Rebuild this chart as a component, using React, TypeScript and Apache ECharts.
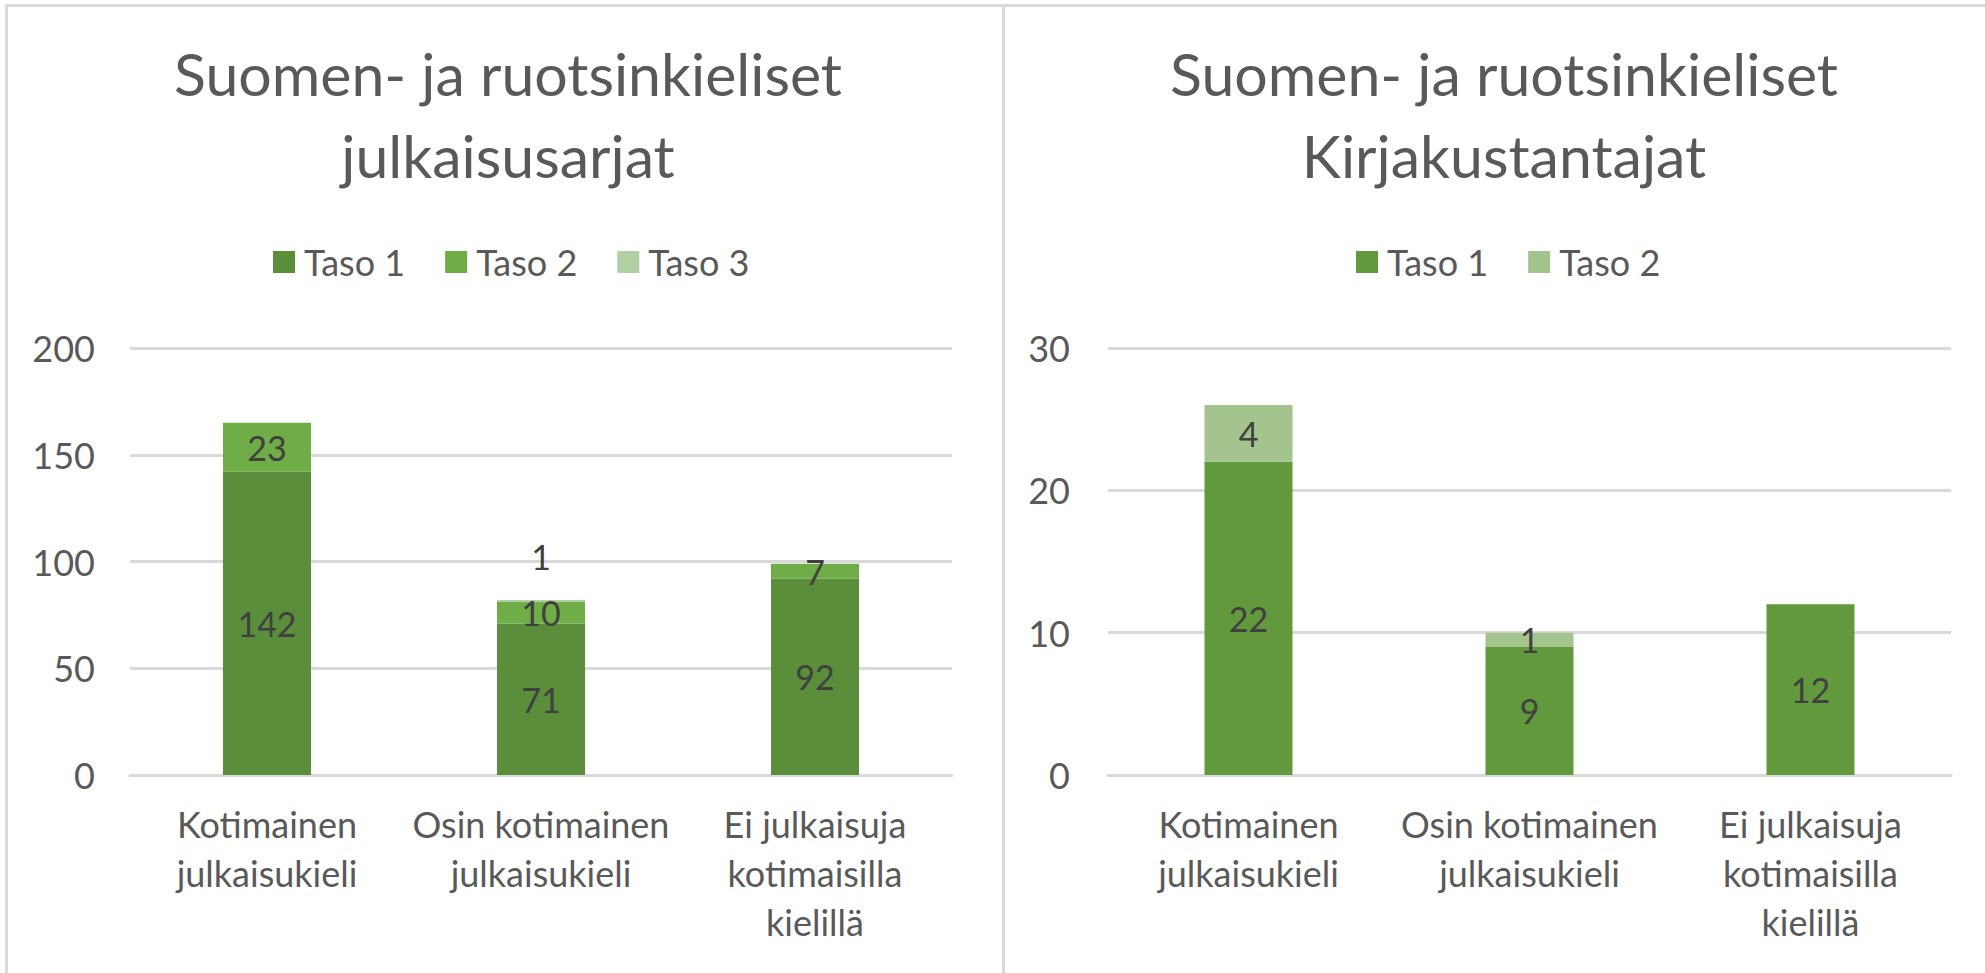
import React, { useEffect, useRef } from "react";
import * as echarts from "echarts";

const categories = ["Kotimainen\njulkaisukieli", "Osin kotimainen\njulkaisukieli", "Ei julkaisuja\nkotimaisilla\nkielillä"];

const leftTitle = "Suomen- ja ruotsinkieliset\njulkaisusarjat";
const leftTaso1 = [142, 71, 92];
const leftTaso2 = [23, 10, 7];
const leftTaso3 = [null, 1, null];
const leftTicks = { min: 0, max: 200, interval: 50 };

const rightTitle = "Suomen- ja ruotsinkieliset\nKirjakustantajat";
const rightTaso1 = [22, 9, 12];
const rightTaso2 = [4, 1, null];
const rightTicks = { min: 0, max: 30, interval: 10 };

const FONT = "Lato, 'Open Sans', sans-serif";
const GRID_COLOR = "#d9d9d9";
const TEXT_COLOR = "#595959";
const LABEL_COLOR = "#404040";

function makeOption(cfg: any) {
  const series = cfg.series.map((s: any) => ({
    name: s.name,
    type: "bar",
    stack: "total",
    barWidth: cfg.barWidth,
    data: s.data,
    itemStyle: { color: s.color },
    label: {
      show: true,
      position: s.labelTop ? "top" : "inside",
      distance: s.labelTop ? 26 : 5,
      color: LABEL_COLOR,
      fontFamily: FONT,
      fontSize: 34,
      formatter: (p: any) => (p.value == null || p.value === 0 ? "" : String(p.value)),
    },
  }));
  return {
    animation: false,
    backgroundColor: "transparent",
    title: {
      text: cfg.title,
      left: cfg.titleX,
      top: 27,
      textAlign: "center",
      textStyle: {
        fontFamily: FONT,
        fontSize: 59,
        fontWeight: "normal",
        color: TEXT_COLOR,
        lineHeight: 82,
      },
    },
    legend: {
      left: cfg.legendLeft,
      top: 239,
      itemWidth: 22,
      itemHeight: 22,
      itemGap: 40,
      selectedMode: false,
      icon: "rect",
      textStyle: { fontFamily: FONT, fontSize: 36, color: TEXT_COLOR, padding: [0, 0, 0, 4] },
      data: cfg.series.map((s: any) => s.name),
    },
    grid: { left: cfg.gridLeft, top: 348, width: cfg.gridWidth, height: 427 },
    xAxis: {
      type: "category",
      data: categories,
      axisTick: { show: false },
      axisLine: { lineStyle: { color: GRID_COLOR, width: 3 } },
      axisLabel: {
        fontFamily: FONT,
        fontSize: 36,
        color: TEXT_COLOR,
        lineHeight: 49,
        margin: 24,
        interval: 0,
      },
    },
    yAxis: {
      type: "value",
      min: cfg.ticks.min,
      max: cfg.ticks.max,
      interval: cfg.ticks.interval,
      axisLine: { show: false },
      axisTick: { show: false },
      splitLine: { lineStyle: { color: GRID_COLOR, width: 3 } },
      axisLabel: { fontFamily: FONT, fontSize: 36, color: TEXT_COLOR, margin: cfg.yMargin },
    },
    series,
  };
}

export default function App() {
  const leftRef = useRef<HTMLDivElement>(null);
  const rightRef = useRef<HTMLDivElement>(null);

  useEffect(() => {
    document.body.style.margin = "0";
    const left = echarts.init(leftRef.current!, null, { renderer: "svg" });
    const right = echarts.init(rightRef.current!, null, { renderer: "svg" });
    left.setOption(
      makeOption({
        title: leftTitle,
        titleX: 503,
        legendLeft: 268,
        gridLeft: 130,
        gridWidth: 822,
        yMargin: 35,
        barWidth: 88,
        ticks: leftTicks,
        series: [
          { name: "Taso 1", data: leftTaso1, color: "#5B8E3A" },
          { name: "Taso 2", data: leftTaso2, color: "#6FAD46" },
          { name: "Taso 3", data: leftTaso3, color: "#B0CFA2", labelTop: true },
        ],
      })
    );
    right.setOption(
      makeOption({
        title: rightTitle,
        titleX: 495,
        legendLeft: 347,
        gridLeft: 104,
        gridWidth: 843,
        yMargin: 38,
        barWidth: 88,
        ticks: rightTicks,
        series: [
          { name: "Taso 1", data: rightTaso1, color: "#62993D" },
          { name: "Taso 2", data: rightTaso2, color: "#A3C48D" },
        ],
      })
    );
    return () => {
      left.dispose();
      right.dispose();
    };
  }, []);

  return (
    <div style={{ position: "relative", width: 1985, height: 973, background: "#fff", overflow: "hidden" }}>
      <div style={{ position: "absolute", left: 5, top: 4, width: 1980, height: 3, background: GRID_COLOR }} />
      <div style={{ position: "absolute", left: 5, top: 4, width: 3, height: 969, background: GRID_COLOR }} />
      <div style={{ position: "absolute", left: 1002, top: 4, width: 3, height: 969, background: GRID_COLOR }} />
      <div ref={leftRef} style={{ position: "absolute", left: 0, top: 0, width: 1002, height: 973 }} />
      <div ref={rightRef} style={{ position: "absolute", left: 1004, top: 0, width: 981, height: 973 }} />
    </div>
  );
}
